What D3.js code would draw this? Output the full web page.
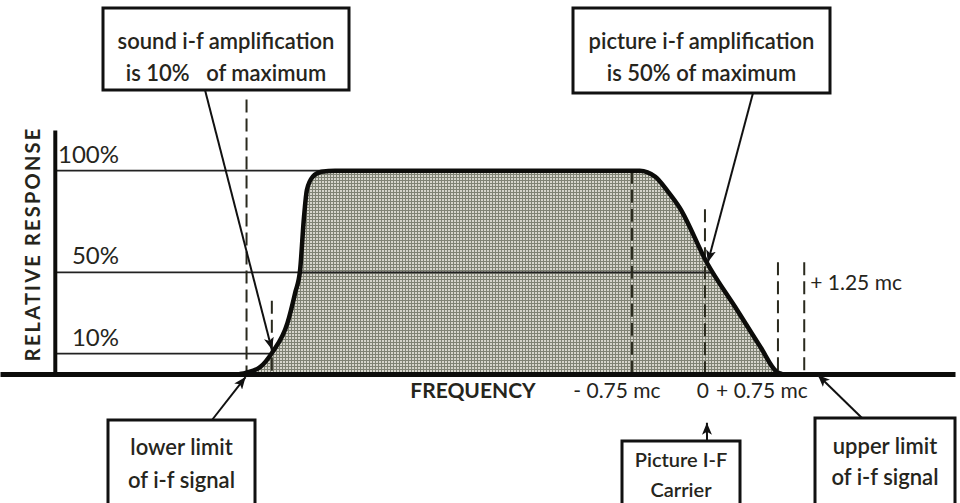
<!DOCTYPE html>
<html lang="en">
<head>
<meta charset="utf-8"/>
<script src="https://d3js.org/d3.v7.min.js"></script>
<style>
  body { margin: 0; background: #fff; }
  text { font-family: "Lato", "DejaVu Sans", sans-serif; fill: #26251c; }
</style>
</head>
<body>
<div id="chart"></div>
<script>
// i-f response curve, frequency in mc relative to the picture carrier
var freqMc   = [-4.78, -4.71, -4.57, -4.44, -4.29, -4.21, -4.16, -4.12, -4.09, -4.03, -3.94, -3.80, -0.67, -0.51, -0.38, -0.26, 0.02, 0.33, 0.57, 0.74, 0.79];
var response = [0, 0.7, 3.4, 11, 25, 40, 51, 77, 90.5, 97, 99.5, 100, 100, 97, 89.7, 81.8, 54.7, 31.5, 13.3, 1, 0];

var levels = [100, 50, 10];
var levelLabels = ["100%", "50%", "10%"];
var levelSide = ["left", "right", "left"];

// dashed marker lines: position and how high they reach (% response)
var markerFreq = [-4.71, -4.45, -0.75, 0, 0.75, 1.02];
var markerTop  = [135, 36, 100, 81, 55, 55];

var tickFreq   = [-0.75, 0, 0.75, 1.02];
var tickLabels = ["- 0.75 mc", "0", "+ 0.75 mc", "+ 1.25 mc"];

var width = 960, height = 503;

var svg = d3.select("#chart").append("svg")
    .attr("width", width)
    .attr("height", height);

var x = d3.scaleLinear().domain([-7.243, 2.569]).range([0, 955]);
var y = d3.scaleLinear().domain([0, 120]).range([374, 130]);

var defs = svg.append("defs");
var pat = defs.append("pattern")
    .attr("id", "screen")
    .attr("patternUnits", "userSpaceOnUse")
    .attr("width", 3).attr("height", 3);
pat.append("rect").attr("width", 3).attr("height", 3).attr("fill", "#d6d5cc");
pat.append("path").attr("d", "M0,0.5H3M0.5,0V3").attr("stroke", "#7f8274").attr("stroke-width", 1);

defs.append("marker")
    .attr("id", "head")
    .attr("viewBox", "0 0 12 10")
    .attr("refX", 12).attr("refY", 5)
    .attr("markerWidth", 12).attr("markerHeight", 10)
    .attr("markerUnits", "userSpaceOnUse")
    .attr("orient", "auto")
  .append("path")
    .attr("d", "M0,0L12,5L0,10L3,5Z")
    .attr("fill", "#111");

var pts = freqMc.map(function (f, i) { return [f, response[i]]; });

// shaded area
svg.append("path")
    .datum(pts)
    .attr("fill", "url(#screen)")
    .attr("d", d3.area()
        .x(function (d) { return x(d[0]); })
        .y0(y(0))
        .y1(function (d) { return y(d[1]); })
        .curve(d3.curveMonotoneX));

// crossing of the curve with a level
function crossing(level, side) {
    var idx = d3.range(pts.length - 1);
    if (side === "right") idx.reverse();
    for (var k = 0; k < idx.length; k++) {
        var a = pts[idx[k]], b = pts[idx[k] + 1];
        if ((a[1] - level) * (b[1] - level) <= 0 && a[1] !== b[1]) {
            return a[0] + (level - a[1]) / (b[1] - a[1]) * (b[0] - a[0]);
        }
    }
    return pts[0][0];
}

// level lines
svg.selectAll(".level")
    .data(levels)
    .enter().append("line")
    .attr("x1", x(-6.68))
    .attr("x2", function (d, i) { return x(crossing(d, levelSide[i])); })
    .attr("y1", function (d) { return y(d); })
    .attr("y2", function (d) { return y(d); })
    .attr("stroke", "#222")
    .attr("stroke-width", 1.6);

svg.selectAll(".levelLabel")
    .data(levels)
    .enter().append("text")
    .attr("x", 119)
    .attr("y", function (d) { return y(d) - 8; })
    .attr("text-anchor", "end")
    .attr("font-size", 24)
    .text(function (d, i) { return levelLabels[i]; });

// dashed markers
svg.selectAll(".marker")
    .data(markerFreq)
    .enter().append("line")
    .attr("x1", function (d) { return x(d); })
    .attr("x2", function (d) { return x(d); })
    .attr("y1", function (d, i) { return y(markerTop[i]); })
    .attr("y2", y(0))
    .attr("stroke", "#2a2a1e")
    .attr("stroke-width", 2)
    .attr("stroke-dasharray", "13,6");

// curve
svg.append("path")
    .datum(pts)
    .attr("fill", "none")
    .attr("stroke", "#0c0c0a")
    .attr("stroke-width", 4.5)
    .attr("stroke-linejoin", "round")
    .attr("d", d3.line()
        .x(function (d) { return x(d[0]); })
        .y(function (d) { return y(d[1]); })
        .curve(d3.curveMonotoneX));

// axes
var xAxis = svg.append("g")
    .attr("transform", "translate(0," + y(0) + ")")
    .call(d3.axisBottom(x).tickValues([]).tickSizeOuter(0));
xAxis.select(".domain").attr("stroke", "#0c0c0a").attr("stroke-width", 5);

var yAxis = svg.append("g")
    .attr("transform", "translate(" + x(-6.68) + ",0)")
    .call(d3.axisLeft(y).tickValues([]).tickSizeOuter(0));
yAxis.select(".domain").attr("stroke", "#0c0c0a").attr("stroke-width", 4);

svg.append("text")
    .attr("transform", "translate(40," + y(64) + ") rotate(-90)")
    .attr("text-anchor", "middle")
    .attr("font-size", 20)
    .attr("font-weight", "bold")
    .attr("letter-spacing", 2.2)
    .text("RELATIVE RESPONSE");

svg.append("text")
    .attr("x", 473).attr("y", 398)
    .attr("text-anchor", "middle")
    .attr("font-size", 21)
    .attr("font-weight", "bold")
    .text("FREQUENCY");

// frequency labels
var tickPos = [
    {dx: -15, dy: 24, anchor: "middle"},
    {dx: -2, dy: 24, anchor: "middle"},
    {dx: -16, dy: 24, anchor: "middle"},
    {dx: 6, dy: -84, anchor: "start"}
];
svg.selectAll(".tick-label")
    .data(tickFreq)
    .enter().append("text")
    .attr("x", function (d, i) { return x(d) + tickPos[i].dx; })
    .attr("y", function (d, i) { return y(0) + tickPos[i].dy; })
    .attr("text-anchor", function (d, i) { return tickPos[i].anchor; })
    .attr("font-size", 21)
    .text(function (d, i) { return tickLabels[i]; });

// annotation boxes
var boxes = [
    {x: 103, y: 8, w: 246, h: 82, lines: ["sound i-f amplification", "is 10%   of maximum"], size: 22, ly: [41, 73]},
    {x: 573, y: 8, w: 257, h: 85, lines: ["picture i-f amplification", "is 50% of maximum"], size: 22, ly: [41, 73]},
    {x: 108, y: 420, w: 147, h: 90, lines: ["lower limit", "of i-f signal"], size: 22, ly: [35, 68]},
    {x: 622, y: 441, w: 118, h: 70, lines: ["Picture I-F", "Carrier"], size: 20, ly: [26, 56]},
    {x: 815, y: 418, w: 140, h: 92, lines: ["upper limit", "of i-f signal"], size: 22, ly: [36, 67]}
];

var g = svg.selectAll(".box").data(boxes).enter().append("g");
g.append("rect")
    .attr("x", function (d) { return d.x; })
    .attr("y", function (d) { return d.y; })
    .attr("width", function (d) { return d.w; })
    .attr("height", function (d) { return d.h; })
    .attr("fill", "#fff")
    .attr("stroke", "#111")
    .attr("stroke-width", 3);
g.each(function (d) {
    var sel = d3.select(this);
    d.lines.forEach(function (t, i) {
        sel.append("text")
            .attr("x", d.x + d.w / 2)
            .attr("y", d.y + d.ly[i])
            .attr("text-anchor", "middle")
            .attr("font-size", d.size)
            .attr("font-weight", 600)
            .attr("xml:space", "preserve")
            .style("white-space", "pre")
            .text(t);
    });
});

// arrows from boxes to the curve
var arrows = [
    {x1: 205, y1: 90, f: -4.45, r: 12},
    {x1: 753, y1: 93, f: 0.03, r: 55},
    {x1: 212, y1: 420, f: -4.72, r: -1.5},
    {x1: 707, y1: 441, f: 0.02, r: -24},
    {x1: 862, y1: 418, f: 1.16, r: -0.5}
];
svg.selectAll(".arrow")
    .data(arrows)
    .enter().append("line")
    .attr("x1", function (d) { return d.x1; })
    .attr("y1", function (d) { return d.y1; })
    .attr("x2", function (d) { return x(d.f); })
    .attr("y2", function (d) { return y(d.r); })
    .attr("stroke", "#111")
    .attr("stroke-width", 2)
    .attr("marker-end", "url(#head)");
</script>
</body>
</html>
